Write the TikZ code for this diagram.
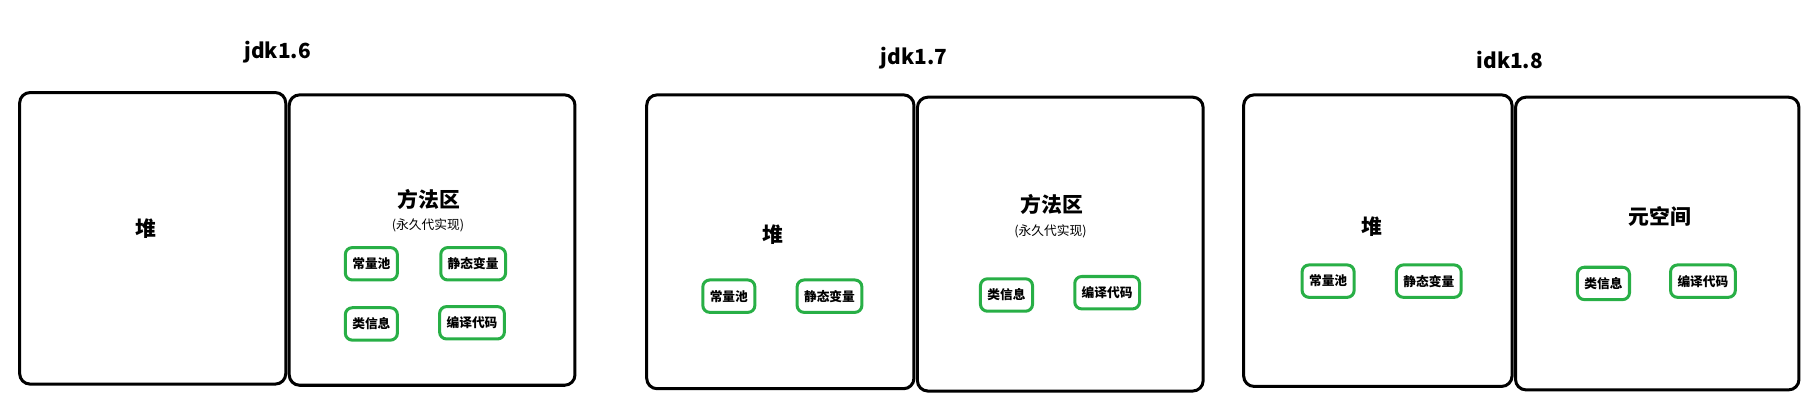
\documentclass[tikz,border=0pt]{standalone}
\usepackage{fontspec}
\setmainfont{Noto Sans CJK SC}
\definecolor{gr}{RGB}{40,175,70}
\begin{document}
\begin{tikzpicture}[x=1pt,y=-1pt,
  region/.style={draw=black,line width=2.6pt,rounded corners=9pt},
  item/.style={draw=gr,line width=2.6pt,rounded corners=6pt,minimum height=28pt,inner xsep=6pt,font=\bfseries\fontsize{11}{12}\selectfont},
  title/.style={font=\bfseries\fontsize{18}{20}\selectfont},
  big/.style={font=\bfseries\fontsize{18}{20}\selectfont},
  note/.style={font=\fontsize{11}{12}\selectfont}]
\useasboundingbox (0,0) rectangle (1568,354);
% jdk1.6
\node[title] (t6) at (240,45) {jdk1.6};
\draw[region] (17,80) rectangle (247,332);
\draw[region] (250,82) rectangle (497,333);
\node[big] (h6) at (126,198) {堆};
\node[big] (m6) at (371,172) {方法区};
\node[note] (p6) at (370,195) {(永久代实现)};
\node[item] (a6) at (321,228) {常量池};
\node[item] (b6) at (409,228) {静态变量};
\node[item] (c6) at (321,280) {类信息};
\node[item] (d6) at (408,279) {编译代码};
% jdk1.7
\node[title] (t7) at (790,50) {jdk1.7};
\draw[region] (559,82) rectangle (790,336);
\draw[region] (793,84) rectangle (1040,338);
\node[big] (h7) at (668,203) {堆};
\node[item] (a7) at (630,256) {常量池};
\node[item] (b7) at (717,256) {静态变量};
\node[big] (m7) at (909,177) {方法区};
\node[note] (p7) at (908,200) {(永久代实现)};
\node[item] (c7) at (870,255) {类信息};
\node[item] (d7) at (957,253) {编译代码};
% jdk1.8
\node[title] (t8) at (1305,52) {idk1.8};
\draw[region] (1075,82) rectangle (1307,334);
\draw[region] (1310,84) rectangle (1555,337);
\node[big] (h8) at (1186,196) {堆};
\node[item] (a8) at (1148,243) {常量池};
\node[item] (b8) at (1235,243) {静态变量};
\node[big] (m8) at (1435,187) {元空间};
\node[item] (c8) at (1386,245) {类信息};
\node[item] (d8) at (1472,243) {编译代码};
\end{tikzpicture}
\end{document}
